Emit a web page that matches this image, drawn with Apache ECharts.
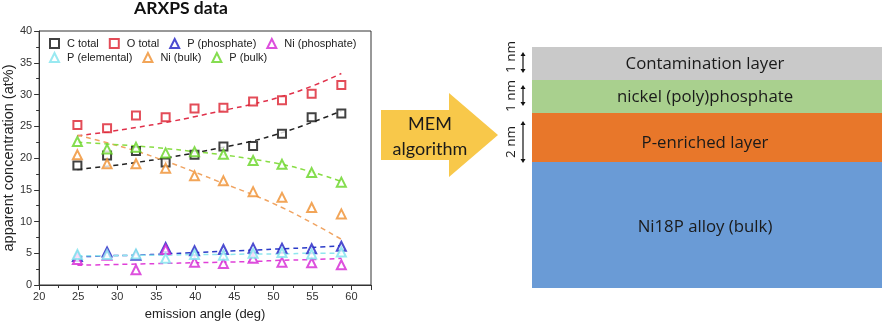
<!DOCTYPE html>
<html>
<head>
<meta charset="utf-8">
<script src="https://cdn.jsdelivr.net/npm/echarts@6/dist/echarts.min.js"></script>
<style>
  html, body { margin: 0; padding: 0; background: #fff; }
  #chart { width: 882px; height: 326px; }
</style>
</head>
<body>
<div id="chart"></div>
<script>
// ---- data ----
const emissionAngle = [24.9, 28.7, 32.4, 36.2, 39.9, 43.6, 47.4, 51.1, 54.9, 58.7];

const cTotal      = [18.8, 20.4, 21.1, 19.3, 20.5, 21.8, 21.9, 23.8, 26.4, 27.0];
const oTotal      = [25.2, 24.7, 26.7, 26.4, 27.8, 27.9, 28.9, 29.1, 30.1, 31.5];
const pPhosphate  = [4.5, 5.2, 4.7, 5.9, 5.4, 5.6, 5.8, 5.8, 5.7, 6.1];
const niPhosphate = [4.0, 4.7, 2.4, 5.6, 3.6, 3.4, 4.2, 3.6, 3.5, 3.2];
const pElemental  = [4.8, 4.8, 4.9, 4.2, 4.8, 4.7, 5.0, 5.1, 4.9, 5.2];
const niBulk      = [20.5, 19.1, 19.1, 18.4, 17.2, 16.4, 14.7, 13.8, 12.2, 11.2];
const pBulk       = [22.6, 21.4, 21.7, 20.8, 21.0, 20.6, 19.6, 19.0, 17.7, 16.2];

// dashed model curves (MEM fit), read at the same angles
const cFit      = [18.2, 18.7, 19.3, 20.0, 20.8, 21.7, 22.7, 24.0, 25.6, 27.4];
const oFit      = [23.5, 24.1, 24.8, 25.6, 26.5, 27.5, 28.5, 29.7, 31.3, 33.3];
const pPhosFit  = [4.4, 4.6, 4.7, 4.9, 5.1, 5.3, 5.5, 5.7, 5.9, 6.2];
const niPhosFit = [3.1, 3.2, 3.3, 3.4, 3.5, 3.6, 3.7, 3.9, 4.0, 4.2];
const pElemFit  = [4.6, 4.6, 4.7, 4.7, 4.8, 4.8, 4.9, 4.9, 5.0, 5.0];
const niBulkFit = [23.6, 22.4, 21.1, 19.5, 17.8, 16.0, 14.2, 12.2, 9.8, 7.2];
const pBulkFit  = [22.5, 22.2, 21.9, 21.5, 21.0, 20.5, 19.8, 19.0, 17.8, 16.3];

const seriesNames = ['C total', 'O total', 'P (phosphate)', 'Ni (phosphate)', 'P (elemental)', 'Ni (bulk)', 'P (bulk)'];
const xTicks = [20, 25, 30, 35, 40, 45, 50, 55, 60];
const yTicks = [0, 5, 10, 15, 20, 25, 30, 35, 40];

// layer diagram
const layerNames = ['Contamination layer', 'nickel (poly)phosphate', 'P-enriched layer', 'Ni18P alloy (bulk)'];
const layerThickness = ['1 nm', '1 nm', '2 nm'];

// ---- styling ----
const colors = ['#111111', '#DC1F2E', '#1F1FC4', '#D424D4', '#7FE3EE', '#EF8E2E', '#66D424'];
const fitColors = ['#222222', '#E0304A', '#2B3BC8', '#E040D8', '#8FE6EE', '#F0A462', '#88DD44'];
const symbols = ['emptyRect', 'emptyRect', 'emptyTriangle', 'emptyTriangle', 'emptyTriangle', 'emptyTriangle', 'emptyTriangle'];

const measured = [cTotal, oTotal, pPhosphate, niPhosphate, pElemental, niBulk, pBulk];
const fits = [cFit, oFit, pPhosFit, niPhosFit, pElemFit, niBulkFit, pBulkFit];

const pair = arr => emissionAngle.map((x, i) => [x, arr[i]]);

const series = [];
fits.forEach((f, i) => {
  series.push({
    name: seriesNames[i] + ' fit',
    type: 'line',
    data: pair(f),
    smooth: true,
    symbol: 'none',
    silent: true,
    z: 2,
    lineStyle: { color: fitColors[i], width: 1.5, type: [5, 4] }
  });
});
measured.forEach((m, i) => {
  series.push({
    name: seriesNames[i],
    type: 'scatter',
    data: pair(m),
    symbol: symbols[i],
    symbolSize: symbols[i] === 'emptyRect' ? 8 : 9,
    z: 3,
    itemStyle: { color: colors[i], borderColor: colors[i], borderWidth: 1.6 }
  });
});

const fontUI = 'Liberation Sans, Arial, sans-serif';
const fontCal = 'Lato, "Open Sans", sans-serif';
const fontLayer = '"Open Sans", Lato, sans-serif';

const legendCommon = {
  orient: 'horizontal',
  itemWidth: 9, itemHeight: 9,
  itemGap: 10,
  textStyle: { fontFamily: fontUI, fontSize: 11, color: '#222', padding: [0, 0, 0, 3] },
  padding: 0
};

// diagram geometry
const LX = 532, RX = 882;
const layerTops = [47, 80, 113, 162, 288];
const layerLabelY = [64, 97, 143, 227];
const layerColors = ['#C9C9C9', '#A9D08E', '#E8772A', '#6A9BD6'];

const graphics = [];
graphics.push({
  type: 'text', x: 181, y: 8,
  style: { text: 'ARXPS data', fontFamily: fontCal, fontWeight: 'bold', fontSize: 17.5, fill: '#111', align: 'center', verticalAlign: 'middle' }
});
// big arrow
graphics.push({
  type: 'polygon',
  shape: { points: [[381, 110], [449, 110], [449, 93], [498, 135], [449, 177], [449, 160], [381, 160]] },
  style: { fill: '#F8C84A' }
});
graphics.push({
  type: 'text', x: 430, y: 124,
  style: { text: 'MEM', fontFamily: fontCal, fontSize: 18, fill: '#1a1a1a', align: 'center', verticalAlign: 'middle' }
});
graphics.push({
  type: 'text', x: 430, y: 149,
  style: { text: 'algorithm', fontFamily: fontCal, fontSize: 18, fill: '#1a1a1a', align: 'center', verticalAlign: 'middle' }
});
// layers
layerNames.forEach((name, i) => {
  graphics.push({
    type: 'rect',
    shape: { x: LX, y: layerTops[i], width: RX - LX, height: layerTops[i + 1] - layerTops[i] },
    style: { fill: layerColors[i] }
  });
  graphics.push({
    type: 'text', x: (LX + RX) / 2 - 2, y: layerLabelY[i],
    style: { text: name, fontFamily: fontLayer, fontSize: 16.8, fill: '#1a1a1a', align: 'center', verticalAlign: 'middle' }
  });
});
// thickness arrows
const thickSpans = [[52, 73], [85, 106], [121, 163]];
const thickLabelY = [57, 96, 142];
thickSpans.forEach((s, i) => {
  const ax = 523;
  graphics.push({ type: 'line', shape: { x1: ax, y1: s[0] + 2, x2: ax, y2: s[1] - 2 }, style: { stroke: '#111', lineWidth: 1.2 } });
  graphics.push({ type: 'polygon', shape: { points: [[ax - 2.5, s[0] + 4], [ax + 2.5, s[0] + 4], [ax, s[0]]] }, style: { fill: '#111' } });
  graphics.push({ type: 'polygon', shape: { points: [[ax - 2.5, s[1] - 4], [ax + 2.5, s[1] - 4], [ax, s[1]]] }, style: { fill: '#111' } });
  graphics.push({
    type: 'text', x: 511, y: thickLabelY[i], rotation: Math.PI / 2,
    style: { text: layerThickness[i], fontFamily: fontLayer, fontSize: 13.5, fill: '#1a1a1a', align: 'center', verticalAlign: 'middle' }
  });
});

const chart = echarts.init(document.getElementById('chart'), null, { renderer: 'canvas' });
chart.setOption({
  animation: false,
  backgroundColor: '#fff',
  grid: { left: 37, top: 31, width: 334, height: 256, show: true, borderColor: '#333', borderWidth: 1, backgroundColor: 'transparent' },
  legend: [
    Object.assign({}, legendCommon, { left: 49, top: 38, data: seriesNames.slice(0, 4) }),
    Object.assign({}, legendCommon, { left: 49, top: 52, data: seriesNames.slice(4) })
  ],
  xAxis: {
    type: 'value', min: xTicks[0], max: 62.5, interval: 5,
    name: 'emission angle (deg)', nameLocation: 'middle', nameGap: 23,
    nameTextStyle: { fontFamily: fontUI, fontSize: 13, color: '#222' },
    axisLine: { lineStyle: { color: '#333', width: 1 } },
    axisTick: { show: true, inside: false, length: 5, lineStyle: { color: '#333' } },
    minorTick: { show: true, splitNumber: 2, length: 3, lineStyle: { color: '#333' } },
    axisLabel: { fontFamily: fontUI, fontSize: 11, color: '#333', margin: 6, showMaxLabel: false,
      formatter: v => xTicks.includes(v) ? String(v) : '' },
    splitLine: { show: false }
  },
  yAxis: {
    type: 'value', min: yTicks[0], max: yTicks[yTicks.length - 1], interval: 5,
    name: 'apparent concentration (at%)', nameLocation: 'middle', nameGap: 21,
    nameTextStyle: { fontFamily: fontUI, fontSize: 14.5, color: '#222' },
    axisLine: { lineStyle: { color: '#333', width: 1 } },
    axisTick: { show: true, inside: false, length: 5, lineStyle: { color: '#333' } },
    minorTick: { show: true, splitNumber: 2, length: 3, lineStyle: { color: '#333' } },
    axisLabel: { fontFamily: fontUI, fontSize: 11, color: '#333', margin: 7 },
    splitLine: { show: false }
  },
  series: series,
  graphic: graphics
});
</script>
</body>
</html>
